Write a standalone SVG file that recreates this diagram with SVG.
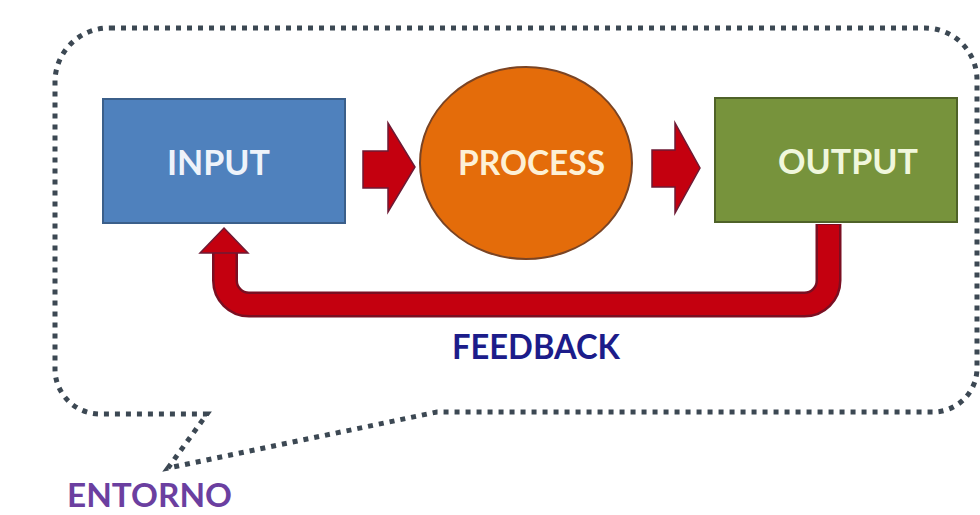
<svg xmlns="http://www.w3.org/2000/svg" width="980" height="515" viewBox="0 0 980 515">
<style>
.lbl{font-family:Lato,"Open Sans","Liberation Sans",sans-serif;font-weight:bold;font-size:35px;text-anchor:middle}
.small{font-size:32px}
.arrow{fill:#c4000f;stroke:#6e1a34;stroke-width:1.5;stroke-linejoin:miter}
.env{fill:none;stroke:#3c4853;stroke-width:5;stroke-dasharray:5 6}
</style>
<rect width="980" height="515" fill="#ffffff"/>
<g id="entorno">
<path class="env" d="M 110 28 H 925 A 52 52 0 0 1 977 80 V 368 A 44 44 0 0 1 933 412 H 437 L 168 468 L 207 414 H 100 A 45 45 0 0 1 55 369 V 82 A 54 54 0 0 1 110 28 Z"/>
<text class="lbl small" x="149.5" y="507" fill="#6b3fa0" textLength="165" lengthAdjust="spacingAndGlyphs">ENTORNO</text>
</g>
<g id="connectors">
<polygon class="arrow" points="363,151 388,151 388,123 415,167 388,212 388,188 363,188"/>
<polygon class="arrow" points="652,150 675,150 675,123 700,168 675,213 675,187 652,187"/>
<g id="feedback-arrow">
<path d="M 828.5 224 V 280.5 A 24 24 0 0 1 804.5 304.5 H 249 A 24 24 0 0 1 225 280.5 V 250" fill="none" stroke="#7a0f22" stroke-width="26"/>
<path d="M 828.5 225 V 280.5 A 24 24 0 0 1 804.5 304.5 H 249 A 24 24 0 0 1 225 280.5 V 250" fill="none" stroke="#c4000f" stroke-width="21"/>
<polygon class="arrow" points="224,228 248,253 200,253"/>
</g>
</g>
<g id="input">
<rect x="103" y="99" width="242" height="124" fill="#4f81bd" stroke="#3b5f8a" stroke-width="2"/>
<text class="lbl" x="218.5" y="175" fill="#eef3fa" textLength="103" lengthAdjust="spacingAndGlyphs">INPUT</text>
</g>
<g id="process">
<ellipse cx="526" cy="163" rx="106" ry="96" fill="#e46c0a" stroke="#7a4424" stroke-width="2"/>
<text class="lbl" x="531.5" y="175" fill="#fdf0d5" textLength="147" lengthAdjust="spacingAndGlyphs">PROCESS</text>
</g>
<g id="output">
<rect x="715" y="98" width="242" height="124" fill="#77933c" stroke="#4f6228" stroke-width="2"/>
<text class="lbl" x="848" y="174" fill="#f0f7dc" textLength="140" lengthAdjust="spacingAndGlyphs">OUTPUT</text>
</g>
<g id="feedback-label">
<text class="lbl" x="536" y="359" fill="#1c1c8a" textLength="168" lengthAdjust="spacingAndGlyphs">FEEDBACK</text>
</g>
</svg>
